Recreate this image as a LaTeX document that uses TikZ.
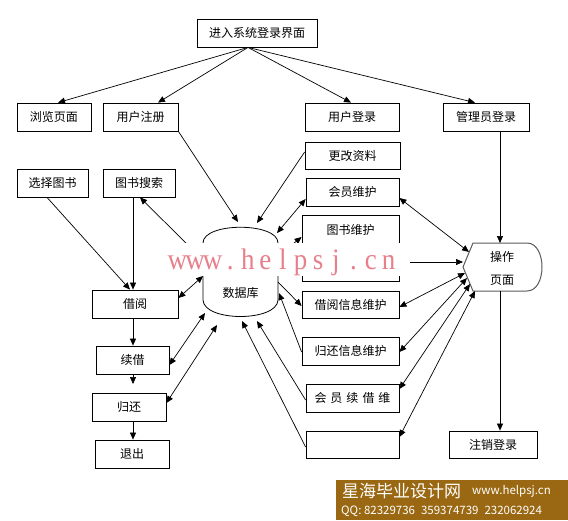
\documentclass[tikz,border=0pt]{standalone}
\usepackage{fontspec}
\setmainfont{Noto Sans CJK SC}
\newfontfamily\wmfont{Liberation Serif}
\usetikzlibrary{arrows.meta}
\definecolor{wmpink}{RGB}{232,128,140}
\definecolor{bannerbrown}{RGB}{154,104,18}
\definecolor{shapegray}{RGB}{90,90,90}
\newcommand{\wmc}[1]{\makebox[17.6pt][c]{#1}}
\begin{document}
\begin{tikzpicture}[x=1pt,y=-1pt,
  box/.style={draw, line width=0.8pt, inner sep=0pt, minimum height=28pt, font=\fontsize{12}{14}\selectfont},
  lbl/.style={inner sep=0pt, font=\fontsize{12}{14}\selectfont},
  conn/.style={line width=0.7pt, -{Triangle[length=7pt,width=6pt]}},
  dconn/.style={line width=0.7pt, {Triangle[length=7pt,width=6pt]}-{Triangle[length=7pt,width=6pt]}}]
\useasboundingbox (0,0) rectangle (568,520);
\fill[white] (0,0) rectangle (568,520);

% top rows
\node[box, minimum width=120pt] (top) at (257,33) {进入系统登录界面};
\node[box, minimum width=74pt] (liulan) at (54,117) {浏览页面};
\node[box, minimum width=75pt] (zhuce) at (140.5,117) {用户注册};
\node[box, minimum width=94pt] (denglu) at (352,117) {用户登录};
\node[box, minimum width=86pt] (guanli) at (486,117) {管理员登录};

% right column of boxes
\node[box, minimum width=95pt, minimum height=27pt] (genggai) at (352.5,155.5) {更改资料};
\node[box, minimum width=93pt] (huiyuan) at (352.5,192) {会员维护};
\node[box, minimum width=97pt, minimum height=66pt] (tushu) at (350.5,248) {};
\node[lbl] (tushulbl) at (350.5,230) {图书维护};
\node[box, minimum width=97pt, minimum height=27pt] (jieyuexx) at (350.5,304.5) {借阅信息维护};
\node[box, minimum width=97pt] (guihuanxx) at (350.5,351) {归还信息维护};
\node[box, minimum width=93pt] (xujiewei) at (352.5,398) {会\hspace{4pt}员\hspace{4pt}续\hspace{4pt}借\hspace{4pt}维};
\node[box, minimum width=93pt, minimum height=27pt] (empty) at (352.5,444.5) {};
\node[box, minimum width=88pt, minimum height=27pt] (zhuxiao) at (493,444.5) {注销登录};

% left column
\node[box, minimum width=71pt] (xuanze) at (52.5,183) {选择图书};
\node[box, minimum width=72pt] (sousuo) at (139,183) {图书搜索};
\node[box, minimum width=86pt] (jieyue) at (135,304) {借阅};
\node[box, minimum width=73pt] (xujie) at (132.5,360) {续借};
\node[box, minimum width=74pt] (guihuan) at (129,407) {归还};
\node[box, minimum width=74pt] (tuichu) at (132,454) {退出};

% database cylinder
\draw[line width=0.8pt] (203,300) -- (203,243) .. controls (203,222) and (278,222) .. (278,243) -- (278,300)
   .. controls (277,322) and (204,322) .. (203,300);
\node[lbl] (db) at (240.5,293) {数据库};

% operation page shape
\draw[line width=1pt, shapegray] (473,243) -- (527,243) .. controls (547,243) and (547,291) .. (527,291)
   -- (473,291) -- (463,267) -- cycle;
\node[lbl, align=center, font=\fontsize{12}{23}\selectfont] (op) at (502,268.5) {操作\\页面};

% connectors: top
\coordinate (tc) at (top.south -| 248,0);
\draw[conn] (tc) -- (liulan.north -| 58,0);
\draw[conn] (tc) -- (zhuce.north -| 158,0);
\draw[conn] (tc) -- (denglu.north -| 351,0);
\draw[conn] (tc) -- (guanli.north -| 475,0);

% connectors to/from database (right side)
\draw[conn] (zhuce.south east) -- (238,222);
\draw[conn] (genggai.west |- 0,152) -- (257,223);
\draw[dconn] (277,233) -- (huiyuan.west |- 0,199);
\draw[conn] (278,256) -- (tushu.west |- 0,237);
\draw[conn] (278,282) -- (jieyuexx.west |- 0,306);
\draw[conn] (guihuanxx.west |- 0,352) -- (279,293);
\draw[conn] (xujiewei.west |- 0,400) -- (257,321);
\draw[conn] (empty.west |- 0,447) -- (242,321);

% left side
\draw[conn] (203,260) -- (sousuo.south -| 140,0);
\draw[conn] (xuanze.south -| 47,0) -- (jieyue.north -| 130,0);
\draw[conn] (sousuo.south -| 133,0) -- (jieyue.north -| 133,0);
\draw[dconn] (jieyue.east |- 0,298) -- (203,276);
\draw[dconn] (xujie.east |- 0,365) -- (205,313);
\draw[dconn] (guihuan.east |- 0,403) -- (217,325);
\draw[conn] (jieyue.south -| 133,0) -- (xujie.north -| 133,0);
\coordinate (xjend) at (133,384);
\draw[conn] (xujie.south -| 133,0) -- (xjend);
\draw[conn] (guihuan.south -| 133,0) -- (tuichu.north -| 133,0);

% right side to operation page
\draw[conn] (guanli.south -| 500,0) -- (500,243);
\draw[conn] (500,291) -- (zhuxiao.north -| 500,0);
\draw[dconn] (huiyuan.east |- 0,198) -- (469,252);
\draw[conn] (tushu.east |- 0,262) -- (463,262);
\draw[dconn] (jieyuexx.east |- 0,307) -- (465,273);
\draw[dconn] (guihuanxx.east |- 0,352) -- (467,278);
\draw[dconn] (xujiewei.east |- 0,389) -- (470,284);
\draw[dconn] (empty.east |- 0,437) -- (475,291);

% watermark
\fill[white] (165,243) rectangle (410,276);
\node[inner sep=0pt, text=wmpink, font=\wmfont\fontsize{27}{27}\selectfont] (wm) at (283,262) {\scalebox{1}[1.1]{\wmc{w}\wmc{w}\wmc{w}\wmc{.}\wmc{h}\wmc{e}\wmc{l}\wmc{p}\wmc{s}\wmc{j}\wmc{.}\wmc{c}\wmc{n}}};

% banner
\fill[bannerbrown] (336,480) rectangle (568,520);
\node[anchor=west, inner sep=0pt, text=white, font=\fontsize{17}{18}\selectfont] (bt1) at (342,491) {星海毕业设计网};
\node[anchor=west, inner sep=0pt, text=white, font=\fontsize{11.5}{13}\selectfont] (bt2) at (472,491) {www.helpsj.cn};
\node[anchor=west, inner sep=0pt, text=white, font=\fontsize{11.5}{13}\selectfont] (bt3) at (341,511) {QQ: 82329736\hspace{6pt}359374739\hspace{6pt}232062924};
\end{tikzpicture}
\end{document}
